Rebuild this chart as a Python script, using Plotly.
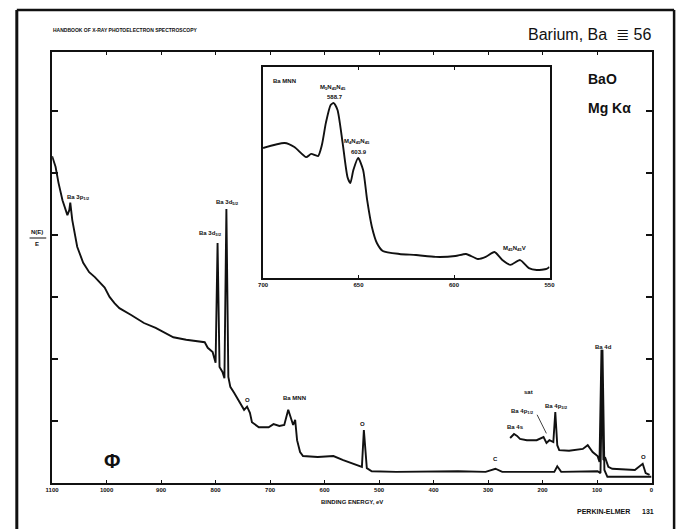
import plotly.graph_objects as go

W, H = 685, 529

# ---------------- data ----------------
# main survey spectrum (binding energy eV, relative N(E)/E)
survey_be = [1100, 1093.7, 1088.3, 1081, 1072, 1068.5, 1066.7, 1063, 1054, 1043, 1032, 1021.6,
             1003.6, 994.6, 985.6, 976.6, 955, 931.5, 910, 877.5, 854, 820, 814.4, 805.4, 800,
             796.4, 792.8, 787.4, 783.8, 780.2, 776.6, 773, 765.8, 756.8, 747.7, 742.3, 737,
             733.3, 720.7, 702.7, 693.7, 683, 674, 666.7, 661.3, 657.7, 654, 650.5, 645, 639.6,
             612.6, 583.8, 565.8, 538.7, 531.5, 527.9, 522.5, 513.5, 468.5, 355, 304.5, 286.5,
             274, 178.4, 173, 165.8, 111.7, 99, 93.7, 90, 86.5, 81, 48.6, 0]
survey_int = [5.27, 5.10, 4.84, 4.56, 4.32, 4.40, 4.52, 4.24, 3.81, 3.55, 3.40, 3.32,
              3.15, 3.00, 2.90, 2.82, 2.71, 2.58, 2.50, 2.35, 2.31, 2.27, 2.18, 2.11, 1.94,
              3.87, 1.87, 1.79, 1.69, 4.42, 1.71, 1.55, 1.45, 1.31, 1.18, 1.23, 1.13,
              0.98, 0.90, 0.90, 0.95, 0.92, 0.935, 1.18, 1.05, 0.935, 1.02, 0.69, 0.50, 0.435,
              0.42, 0.435, 0.37, 0.29, 0.26, 0.855, 0.24, 0.19, 0.18, 0.19, 0.18, 0.23,
              0.18, 0.18, 0.27, 0.18, 0.18, 0.19, 0.16, 2.15, 0.21, 0.10, 0.10, 0.10]

# expanded low binding energy region
expand_be = [259.5, 252.3, 246.8, 241.4, 228.8, 210.8, 198.2, 192.8, 187.4, 180.2, 176.6, 173,
             169.4, 151.4, 126.1, 117.1, 108.1, 99.1, 95.5, 91.9, 88.3, 84.7, 79.3, 72.1,
             30.6, 16.2, 10.8, 3.6]
expand_int = [0.726, 0.79, 0.76, 0.71, 0.69, 0.69, 0.74, 0.645, 0.69, 0.66, 1.145, 0.61,
              0.53, 0.52, 0.55, 0.61, 0.50, 0.435, 0.34, 2.15, 0.37, 0.40, 0.26, 0.23,
              0.21, 0.31, 0.16, 0.13]

# inset: Ba MNN Auger region
inset_be = [700, 688.7, 683.6, 677.4, 674.8, 671.2, 669.2, 667.1, 664.6, 663.0, 661.0, 658.4,
            655.8, 654.3, 652.7, 650.2, 647.6, 645.5, 643.0, 640.4, 637.3, 628.6, 619.9, 609.6,
            599.3, 593.7, 587.5, 583.4, 578.8, 574.7, 570.5, 565.4, 560.8, 556.7, 551.5, 550.0]
inset_int = [61.6, 64.0, 62.1, 57.3, 58.8, 57.8, 63.0, 73.5, 82.0, 82.9, 79.6, 64.5,
             47.9, 45.0, 51.2, 56.9, 51.2, 37.0, 24.2, 16.6, 12.8, 11.4, 10.9, 10.0,
             10.4, 11.4, 9.0, 10.0, 12.3, 8.5, 6.2, 8.5, 4.7, 3.8, 4.3, 5.2]

x_ticks = list(range(0, 1200, 100))
x_ticktext = [str(v) for v in x_ticks]
y_ticks = [1, 2, 3, 4, 5, 6]
inset_ticks = [700, 650, 600, 550]

# peak labels: (text, binding energy, intensity)
main_labels = [
    ("Ba 3p<sub>1/2</sub>", 1052, 4.61),
    ("Ba 3d<sub>3/2</sub>", 809, 4.03),
    ("Ba 3d<sub>5/2</sub>", 778, 4.52),
    ("O", 742, 1.34),
    ("Ba MNN", 656, 1.37),
    ("O", 530, 0.95),
    ("C", 286, 0.39),
    ("Ba 4s", 250, 0.90),
    ("Ba 4p<sub>1/2</sub>", 236, 1.16),
    ("sat", 225, 1.46),
    ("Ba 4p<sub>3/2</sub>", 175, 1.24),
    ("Ba 4d", 88, 2.19),
    ("O", 14, 0.42),
]
inset_labels = [
    ("M<sub>5</sub>N<sub>45</sub>N<sub>45</sub>", 663.5, 90.5),
    ("588.7", 662.5, 85.6),
    ("M<sub>4</sub>N<sub>45</sub>N<sub>45</sub>", 650.7, 64.9),
    ("603.9", 649.5, 59.7),
    ("M<sub>45</sub>N<sub>45</sub>V", 568.5, 14.2),
]


def px(x):
    return x / W


def py(y):
    return 1 - y / H


FONT = "Liberation Sans, Arial, sans-serif"
INK = "#111111"

fig = go.Figure()
fig.add_trace(go.Scatter(x=survey_be, y=survey_int, mode="lines",
                         line=dict(color=INK, width=1.9), xaxis="x", yaxis="y"))
fig.add_trace(go.Scatter(x=expand_be, y=expand_int, mode="lines",
                         line=dict(color=INK, width=1.9), xaxis="x", yaxis="y"))
fig.add_trace(go.Scatter(x=inset_be, y=inset_int, mode="lines",
                         line=dict(color=INK, width=1.9, shape="spline", smoothing=0.6),
                         xaxis="x2", yaxis="y2"))

fig.update_layout(
    width=W, height=H, margin=dict(l=0, r=0, t=0, b=0), autosize=False,
    paper_bgcolor="white", plot_bgcolor="white", showlegend=False,
    font=dict(family=FONT, color=INK),
    xaxis=dict(domain=[px(46), px(657)], range=[1100, 0], tickvals=x_ticks,
               ticktext=["<b>%s</b>" % t for t in x_ticktext],
               ticks="inside", ticklen=3, tickwidth=1, tickcolor=INK,
               showline=True, linewidth=2, linecolor=INK, mirror="ticks",
               showgrid=False, zeroline=False, tickfont=dict(size=6), anchor="y"),
    yaxis=dict(domain=[py(483), py(52)], range=[0, 6.95], tickvals=y_ticks,
               ticks="inside", ticklen=6, tickwidth=1.5, tickcolor=INK,
               showticklabels=False, showline=True, linewidth=1.6, linecolor=INK,
               mirror="ticks", showgrid=False, zeroline=False, anchor="x"),
    xaxis2=dict(domain=[px(261), px(553)], range=[700, 550], tickvals=inset_ticks,
                ticktext=["<b>%d</b>" % t for t in inset_ticks],
                ticks="inside", ticklen=3, tickwidth=1, tickcolor=INK,
                showline=True, linewidth=1.5, linecolor=INK, mirror="ticks",
                showgrid=False, zeroline=False, tickfont=dict(size=6), anchor="y2"),
    yaxis2=dict(domain=[py(278), py(67)], range=[0, 100], showticklabels=False,
                ticks="", showline=True, linewidth=1.5, linecolor=INK, mirror=True,
                showgrid=False, zeroline=False, anchor="x2"),
)

C = dict(xanchor="center", yanchor="middle", showarrow=False)
ann = []
for text, be, val in main_labels:
    ann.append(dict(x=be, y=val, xref="x", yref="y", text="<b>%s</b>" % text,
                    font=dict(size=6, color=INK), **C))
for text, be, val in inset_labels:
    ann.append(dict(x=be, y=val, xref="x2", yref="y2", text="<b>%s</b>" % text,
                    font=dict(size=6, color=INK), **C))
ann.append(dict(x=696, y=93.4, xref="x2", yref="y2", text="<b>Ba MNN</b>",
                xanchor="left", yanchor="middle", showarrow=False,
                font=dict(size=6, color=INK)))

# page furniture
ann += [
    dict(x=px(45), y=py(30), xref="paper", yref="paper", xanchor="left", yanchor="middle",
         showarrow=False, text="<b>HANDBOOK OF X-RAY PHOTOELECTRON SPECTROSCOPY</b>",
         font=dict(size=5, color=INK)),
    dict(x=px(658), y=py(35), xref="paper", yref="paper", xanchor="right", yanchor="middle",
         showarrow=False, text="Barium, Ba  \u2263 56", font=dict(size=16, color=INK)),
    dict(x=px(590), y=py(79), xref="paper", yref="paper", xanchor="left", yanchor="middle",
         showarrow=False, text="<b>BaO</b>", font=dict(size=14, color=INK)),
    dict(x=px(590), y=py(108), xref="paper", yref="paper", xanchor="left", yanchor="middle",
         showarrow=False, text="<b>Mg K\u03b1</b>", font=dict(size=14, color=INK)),
    dict(x=px(352), y=py(502), xref="paper", yref="paper",
         text="<b>BINDING ENERGY, eV</b>", font=dict(size=6, color=INK), **C),
    dict(x=px(637), y=py(511), xref="paper", yref="paper", xanchor="right", yanchor="middle",
         showarrow=False, text="<b>PERKIN-ELMER</b>", font=dict(size=7, color=INK)),
    dict(x=px(653), y=py(511), xref="paper", yref="paper",
         text="<b>131</b>", font=dict(size=7, color=INK), **C),
    dict(x=px(107), y=py(461), xref="paper", yref="paper",
         text="<b>\u03a6</b>", font=dict(size=20, color=INK), **C),
    dict(x=px(31), y=py(232), xref="paper", yref="paper",
         text="<b>N(E)</b>", font=dict(size=6, color=INK), **C),
    dict(x=px(31), y=py(244), xref="paper", yref="paper",
         text="<b>E</b>", font=dict(size=6, color=INK), **C),
]
fig.update_layout(annotations=ann)

shapes = [
    # outer page frame
    dict(type="line", xref="paper", yref="paper", x0=px(10), x1=px(10), y0=0, y1=py(10),
         line=dict(color=INK, width=3)),
    dict(type="line", xref="paper", yref="paper", x0=px(10), x1=px(680), y0=py(10), y1=py(10),
         line=dict(color=INK, width=2.5)),
    dict(type="line", xref="paper", yref="paper", x0=px(680), x1=px(680), y0=0, y1=py(10),
         line=dict(color=INK, width=2.5)),
    # fraction bar of y label
    dict(type="line", xref="paper", yref="paper", x0=px(23), x1=px(40), y0=py(238), y1=py(238),
         line=dict(color=INK, width=1)),
    # leader for Ba 4p1/2
    dict(type="line", xref="x", yref="y", x0=210, x1=193, y0=1.10, y1=0.80,
         line=dict(color=INK, width=0.8)),
]
fig.update_layout(shapes=shapes)

fig.write_html(
    "out.html",
    config={"responsive": False, "displayModeBar": False},
    post_script="document.body.style.margin='0px';document.body.style.padding='0px';"
                "document.documentElement.style.overflow='hidden';",
)
